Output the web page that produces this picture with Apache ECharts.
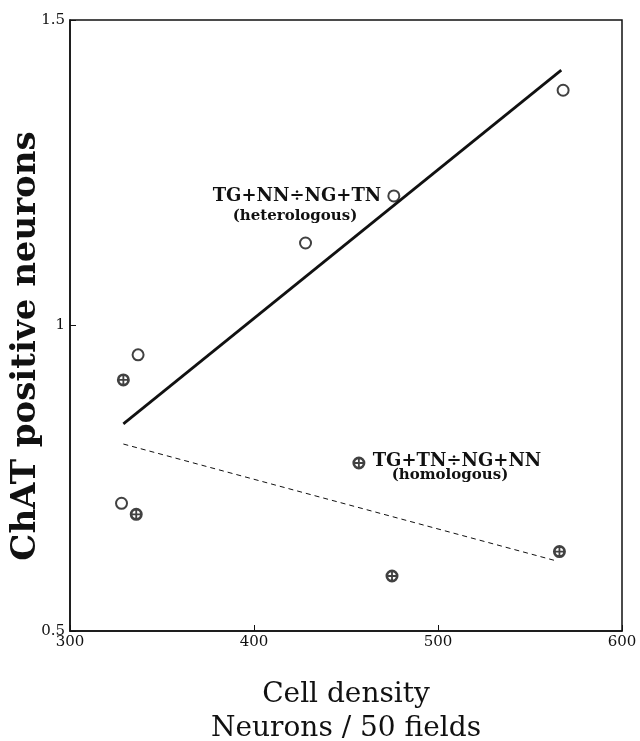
<!DOCTYPE html>
<html>
<head>
  <meta charset="UTF-8">
  <title>ChAT positive neurons vs cell density</title>
  <script src="https://cdn.jsdelivr.net/npm/echarts@6/dist/echarts.min.js"></script>
  <style>
    html, body { margin: 0; padding: 0; background: #fff; }
    #main { width: 640px; height: 741px; }
  </style>
</head>
<body>
  <div id="main"></div>
  <script>
    // heterologous (open circles)
    var hetX = [328, 337, 428, 476, 568];
    var hetY = [0.709, 0.952, 1.135, 1.212, 1.385];
    // homologous (crossed circles)
    var homX = [329, 336, 457, 475, 566];
    var homY = [0.911, 0.691, 0.775, 0.590, 0.630];
    // fitted lines, end points
    var hetFitX = [329, 567];
    var hetFitY = [0.839, 1.418];
    var homFitX = [329, 564];
    var homFitY = [0.806, 0.615];

    function pairs(xs, ys) {
      var out = [];
      for (var i = 0; i < xs.length; i++) out.push([xs[i], ys[i]]);
      return out;
    }

    var serif = '"DejaVu Serif", "Liberation Serif", serif';
    // ring with a cross inside
    var crossCircle = 'path://M0,10 a10,10 0 1,1 20,0 a10,10 0 1,1 -20,0 Z ' +
      'M4.2,10 a5.8,5.8 0 1,0 11.6,0 a5.8,5.8 0 1,0 -11.6,0 Z ' +
      'M8.6,2 h2.8 v16 h-2.8 Z M2,8.6 h16 v2.8 h-16 Z';

    var myChart = echarts.init(document.getElementById('main'));
    var option = {
      animation: false,
      backgroundColor: '#fff',
      grid: {
        left: 70, right: 18, top: 20, bottom: 110,
        outerBoundsMode: 'none',
        show: true, borderColor: '#111', borderWidth: 1.5
      },
      xAxis: {
        type: 'value', min: 300, max: 600, interval: 100,
        splitLine: { show: false },
        axisLine: { lineStyle: { color: '#111', width: 1.5 } },
        axisTick: { inside: true, length: 6, lineStyle: { color: '#111' } },
        axisLabel: { color: '#111', fontFamily: serif, fontSize: 15, margin: 4 },
        name: 'Cell density\nNeurons / 50 fields',
        nameLocation: 'middle', nameGap: 47,
        nameTextStyle: { color: '#111', fontFamily: serif, fontSize: 28, lineHeight: 34, verticalAlign: 'top' }
      },
      yAxis: {
        type: 'value', min: 0.5, max: 1.5, interval: 0.5,
        splitLine: { show: false },
        axisLine: { lineStyle: { color: '#111', width: 1.5 } },
        axisTick: { inside: true, length: 6, lineStyle: { color: '#111' } },
        axisLabel: { color: '#111', fontFamily: serif, fontSize: 15, margin: 5 }
      },
      series: [
        {
          type: 'line', data: pairs(hetFitX, hetFitY), symbol: 'none',
          lineStyle: { color: '#111', width: 2.8 }
        },
        {
          type: 'line', data: pairs(homFitX, homFitY), symbol: 'none',
          lineStyle: { color: '#111', width: 1, type: [5, 4] }
        },
        {
          type: 'scatter', data: pairs(hetX, hetY), symbol: 'circle', symbolSize: 11,
          itemStyle: { color: '#fff', borderColor: '#111', borderWidth: 2 }
        },
        {
          type: 'scatter', data: pairs(homX, homY), symbol: crossCircle, symbolSize: 13,
          itemStyle: { color: '#111' }
        }
      ],
      graphic: [
        {
          // y axis title
          type: 'text', x: 26, y: 346, rotation: Math.PI / 2,
          style: { text: 'ChAT positive neurons', font: 'bold 34px ' + serif, fill: '#111', align: 'center', verticalAlign: 'middle' }
        },
        {
          type: 'text', x: 297, y: 196,
          style: { text: 'TG+NN÷NG+TN', font: 'bold 18px ' + serif, fill: '#111', align: 'center', verticalAlign: 'middle' }
        },
        {
          type: 'text', x: 295, y: 216,
          style: { text: '(heterologous)', font: 'bold 15px ' + serif, fill: '#111', align: 'center', verticalAlign: 'middle' }
        },
        {
          type: 'text', x: 457, y: 461,
          style: { text: 'TG+TN÷NG+NN', font: 'bold 18px ' + serif, fill: '#111', align: 'center', verticalAlign: 'middle' }
        },
        {
          type: 'text', x: 450, y: 475,
          style: { text: '(homologous)', font: 'bold 15px ' + serif, fill: '#111', align: 'center', verticalAlign: 'middle' }
        }
      ]
    };
    myChart.setOption(option);
  </script>
</body>
</html>
